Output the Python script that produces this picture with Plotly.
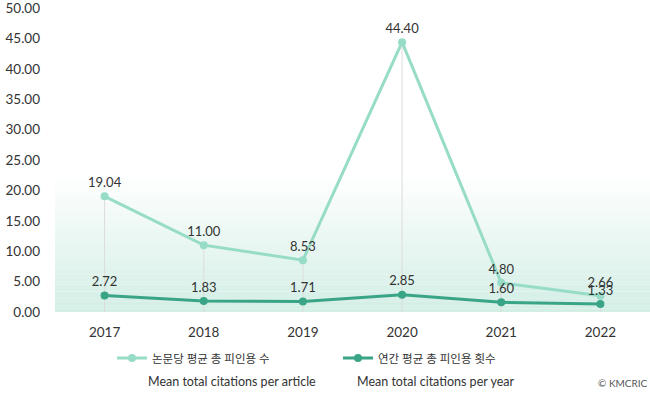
import plotly.graph_objects as go

years = [2017, 2018, 2019, 2020, 2021, 2022]
per_article = [19.04, 11.00, 8.53, 44.40, 4.80, 2.66]
per_year = [2.72, 1.83, 1.71, 2.85, 1.60, 1.33]
name_article_ko = "논문당 평균 총 피인용 수"
name_year_ko = "연간 평균 총 피인용 횟수"
name_article_en = "Mean total citations per article"
name_year_en = "Mean total citations per year"
y_ticks = [0, 5, 10, 15, 20, 25, 30, 35, 40, 45, 50]

FONT = "Lato, 'Noto Sans CJK KR', sans-serif"
LIGHT = "#97dcc7"
DARK = "#3aa586"

fig = go.Figure()

# drop lines from highest value to axis
dx, dy = [], []
for x, a, b in zip(years, per_article, per_year):
    dx += [x, x, None]
    dy += [0, max(a, b), None]
fig.add_trace(go.Scatter(x=dx, y=dy, mode="lines", line=dict(color="#dcdcdc", width=1),
                         hoverinfo="skip", showlegend=False))

fig.add_trace(go.Scatter(
    x=years, y=per_article, mode="lines+markers+text", name=name_article_ko,
    line=dict(color=LIGHT, width=3), marker=dict(color=LIGHT, size=8),
    text=[f"{v:.2f}" for v in per_article], textposition="top center",
    textfont=dict(size=13, color="#333333", family=FONT)))
fig.add_trace(go.Scatter(
    x=years, y=per_year, mode="lines+markers+text", name=name_year_ko,
    line=dict(color=DARK, width=3), marker=dict(color=DARK, size=8),
    text=[f"{v:.2f}" for v in per_year], textposition="top center",
    textfont=dict(size=13, color="#333333", family=FONT)))

# background gradient (decoration)
shapes = []
n = 40
top = 0.45  # fraction of plot height
for i in range(n):
    y0 = top * i / n
    y1 = top * (i + 1) / n
    frac = 1 - (i + 0.5) / n
    shapes.append(dict(type="rect", xref="paper", yref="paper", x0=0, x1=1, y0=y0, y1=y1,
                       fillcolor="#d2eee5", opacity=frac, line=dict(width=0), layer="below"))

fig.update_layout(
    width=650, height=394,
    margin=dict(l=55, r=0, t=8, b=82, autoexpand=False),
    paper_bgcolor="white", plot_bgcolor="rgba(0,0,0,0)",
    font=dict(family=FONT, size=13, color="#333333"),
    shapes=shapes,
    showlegend=True,
    legend=dict(orientation="h", x=112 / 650, xanchor="left", xref="container",
                y=1 - 358 / 394, yanchor="middle", yref="container",
                font=dict(size=11.5, color="#333333", family=FONT),
                entrywidth=181, entrywidthmode="pixels", itemwidth=30,
                bgcolor="rgba(0,0,0,0)"),
    xaxis=dict(range=[2016.5, 2022.5], tickvals=years, ticktext=[str(y) for y in years],
               showgrid=False, zeroline=False, showline=False, ticklabelstandoff=10,
               automargin=False, tickfont=dict(size=13.5, color="#333333")),
    yaxis=dict(range=[0, 50.02], tickvals=y_ticks, ticktext=[f"{v:.2f}" for v in y_ticks],
               showgrid=False, zeroline=False, showline=False, ticklabelstandoff=14,
               ticklabeloverflow="allow",
               automargin=False, tickfont=dict(size=13.5, color="#333333")),
    annotations=[
        dict(text=name_article_en, xref="paper", yref="paper", x=(146 - 55) / 595,
             y=-(382 - 312) / 304, xanchor="left", yanchor="middle", showarrow=False,
             font=dict(size=12.5, color="#333333", family=FONT)),
        dict(text=name_year_en, xref="paper", yref="paper", x=(355 - 55) / 595,
             y=-(382 - 312) / 304, xanchor="left", yanchor="middle", showarrow=False,
             font=dict(size=12.5, color="#333333", family=FONT)),
        dict(text="© KMCRIC", xref="paper", yref="paper", x=1, y=-(383 - 312) / 304,
             xanchor="right", yanchor="middle", showarrow=False,
             font=dict(size=10, color="#555555", family=FONT)),
    ],
)

fig.write_html("out.html", config={"displayModeBar": False},
               post_script="document.body.style.margin='0';document.body.style.overflow='hidden';")
